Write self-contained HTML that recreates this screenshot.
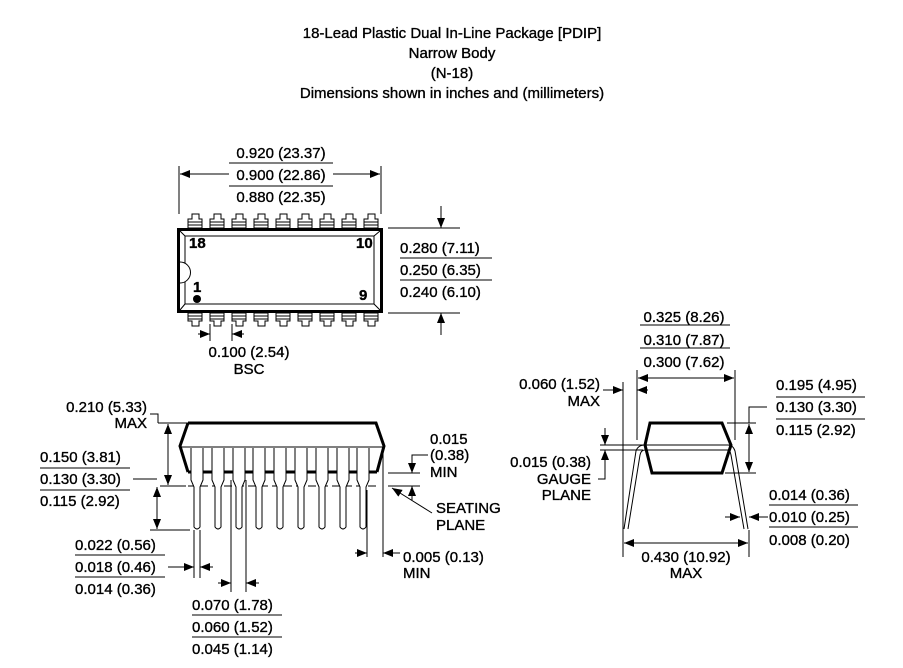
<!DOCTYPE html>
<html><head><meta charset="utf-8"><style>
html,body{margin:0;padding:0;background:#fff}
svg{display:block}
text{font-family:"Liberation Sans",Arial,sans-serif;font-size:15px;fill:#000;stroke:#000;stroke-width:0.35}
</style></head><body>
<svg width="903" height="668" viewBox="0 0 903 668" xmlns="http://www.w3.org/2000/svg">
<defs>
<marker id="a" viewBox="0 0 10 8" refX="10" refY="4" markerWidth="10" markerHeight="8" markerUnits="userSpaceOnUse" orient="auto"><path d="M0,0L10,4L0,8Z" fill="#000"/></marker>
</defs>
<g text-anchor="middle">
<text x="452" y="38">18-Lead Plastic Dual In-Line Package [PDIP]</text>
<text x="452" y="58">Narrow Body</text>
<text x="452" y="78">(N-18)</text>
<text x="452" y="98">Dimensions shown in inches and (millimeters)</text>
</g>
<g stroke="#000" stroke-width="1" fill="none">
<!-- TOP VIEW -->
<line x1="179" y1="166" x2="179" y2="214"/><line x1="381" y1="166" x2="381" y2="214"/>
<line x1="229" y1="174" x2="180" y2="174" marker-end="url(#a)"/>
<line x1="333" y1="174" x2="380" y2="174" marker-end="url(#a)"/>
<line x1="229" y1="163" x2="333" y2="163"/><line x1="229" y1="186" x2="333" y2="186"/>
<rect x="178.5" y="229.5" width="203" height="82" stroke-width="3"/>
<path d="M185,236H374V304H185Z"/>
<path d="M180,231L185,236M380,231L374,236M180,310L185,304M380,310L374,304"/>
<path d="M180,262A10,10 0 0 1 180,283" fill="#fff"/>
<line x1="388" y1="228" x2="460" y2="228"/><line x1="388" y1="313" x2="460" y2="313"/>
<line x1="441" y1="206" x2="441" y2="228" marker-end="url(#a)"/>
<line x1="441" y1="335" x2="441" y2="313" marker-end="url(#a)"/>
<line x1="400" y1="258" x2="492" y2="258"/><line x1="400" y1="280" x2="492" y2="280"/>
<line x1="210" y1="324" x2="210" y2="341"/><line x1="232" y1="324" x2="232" y2="341"/>
<line x1="198" y1="334" x2="210" y2="334" marker-end="url(#a)"/>
<line x1="244" y1="334" x2="232" y2="334" marker-end="url(#a)"/>
<!-- SIDE VIEW -->
<path d="M188,423H376L384,446L377,472M188,423L180,446L188,472" stroke-width="3"/>
<line x1="181" y1="447" x2="383" y2="447"/>
<line x1="188" y1="472" x2="377" y2="472" stroke-width="3"/>
<line x1="188" y1="486" x2="380" y2="486" stroke-dasharray="8,4"/>
<path d="M150,414H158V423"/>
<line x1="158" y1="423" x2="188" y2="423"/><line x1="160" y1="486" x2="186" y2="486"/>
<line x1="168" y1="440" x2="168" y2="424" marker-end="url(#a)"/>
<line x1="168" y1="440" x2="168" y2="485" marker-end="url(#a)"/>
<line x1="40" y1="468" x2="130" y2="468"/><line x1="40" y1="490" x2="130" y2="490"/>
<path d="M133,479H157"/>
<line x1="157" y1="505" x2="157" y2="487" marker-end="url(#a)"/>
<line x1="157" y1="505" x2="157" y2="529" marker-end="url(#a)"/>
<line x1="150" y1="530" x2="190" y2="530"/>
<line x1="388" y1="473" x2="420" y2="473"/><line x1="388" y1="486" x2="420" y2="486"/>
<path d="M428,455H412V473"/>
<line x1="412" y1="460" x2="412" y2="473" marker-end="url(#a)"/>
<line x1="412" y1="500" x2="412" y2="486" marker-end="url(#a)"/>
<path d="M432,513L392,488" marker-end="url(#a)"/>
<line x1="367" y1="490" x2="367" y2="557"/><line x1="383" y1="440" x2="383" y2="557"/>
<line x1="355" y1="553" x2="367" y2="553" marker-end="url(#a)"/>
<line x1="400" y1="553" x2="383" y2="553" marker-end="url(#a)"/>
<line x1="75" y1="555" x2="165" y2="555"/><line x1="75" y1="577" x2="165" y2="577"/>
<line x1="194" y1="530" x2="194" y2="578"/><line x1="200" y1="530" x2="200" y2="578"/>
<line x1="168" y1="567" x2="194" y2="567" marker-end="url(#a)"/>
<line x1="213" y1="567" x2="200" y2="567" marker-end="url(#a)"/>
<line x1="192" y1="615" x2="282" y2="615"/><line x1="192" y1="637" x2="282" y2="637"/>
<line x1="231" y1="480" x2="231" y2="592"/><line x1="246" y1="480" x2="246" y2="592"/>
<line x1="218" y1="583" x2="231" y2="583" marker-end="url(#a)"/>
<line x1="259" y1="583" x2="246" y2="583" marker-end="url(#a)"/>
<!-- END VIEW -->
<path d="M650,423H722L731,445L722,473H652L645,445Z" stroke-width="3"/>
<path d="M600,445H645M600,450H643"/>
<path d="M624,529L636,451Q638,445 645,445M628,529L640,455Q641,450 645,450"/>
<path d="M748,529L735,451Q733,445 728,445M744,529L731,455Q730,450 728,450"/>
<path d="M645,445H728M645,450H728"/>
<line x1="605" y1="428" x2="605" y2="445" marker-end="url(#a)"/>
<line x1="605" y1="466" x2="605" y2="450" marker-end="url(#a)"/>
<path d="M605,466V479H598"/>
<line x1="623" y1="382" x2="623" y2="557"/>
<line x1="637" y1="370" x2="637" y2="440"/><line x1="735" y1="370" x2="735" y2="440"/>
<line x1="686" y1="378" x2="638" y2="378" marker-end="url(#a)"/>
<line x1="686" y1="378" x2="734" y2="378" marker-end="url(#a)"/>
<line x1="603" y1="390" x2="623" y2="390" marker-end="url(#a)"/>
<line x1="648" y1="390" x2="637" y2="390" marker-end="url(#a)"/>
<line x1="640" y1="325" x2="730" y2="325"/><line x1="640" y1="348" x2="730" y2="348"/>
<line x1="727" y1="423" x2="756" y2="423"/><line x1="725" y1="473" x2="756" y2="473"/>
<path d="M767,407H749V423"/>
<line x1="749" y1="448" x2="749" y2="424" marker-end="url(#a)"/>
<line x1="749" y1="448" x2="749" y2="472" marker-end="url(#a)"/>
<line x1="776" y1="397" x2="865" y2="397"/><line x1="776" y1="419" x2="865" y2="419"/>
<line x1="725" y1="517" x2="740" y2="517" marker-end="url(#a)"/>
<line x1="768" y1="517" x2="749" y2="517" marker-end="url(#a)"/>
<line x1="769" y1="505" x2="858" y2="505"/><line x1="769" y1="527" x2="858" y2="527"/>
<line x1="749" y1="530" x2="749" y2="557"/>
<line x1="686" y1="543" x2="624" y2="543" marker-end="url(#a)"/>
<line x1="686" y1="543" x2="748" y2="543" marker-end="url(#a)"/>
</g>
<!-- pins top & bottom -->
<g stroke="#000" fill="#fff" stroke-width="1">
<g id="tp"><path d="M192,214H199V219H202V228H188V219H192Z"/><path d="M188,222H202M188,225H202"/></g>
<use href="#tp" x="22"/><use href="#tp" x="44"/><use href="#tp" x="66"/><use href="#tp" x="88"/><use href="#tp" x="110"/><use href="#tp" x="132"/><use href="#tp" x="154"/><use href="#tp" x="176"/>
<g id="bp"><path d="M188,313H202V321H199V326H192V321H188Z"/><path d="M188,316H202M188,319H202"/></g>
<use href="#bp" x="22"/><use href="#bp" x="44"/><use href="#bp" x="66"/><use href="#bp" x="88"/><use href="#bp" x="110"/><use href="#bp" x="132"/><use href="#bp" x="154"/><use href="#bp" x="176"/>
<g id="sp"><path d="M191,448V480L194,487V527Q197,531 200,527V487L203,480V448"/></g>
<use href="#sp" x="21"/><use href="#sp" x="42"/><use href="#sp" x="62"/><use href="#sp" x="83"/><use href="#sp" x="104"/><use href="#sp" x="125"/><use href="#sp" x="146"/><use href="#sp" x="166"/>
</g>
<circle cx="197" cy="299" r="4" fill="#000"/>
<g style="font-size:11px;font-weight:bold">
<text x="189" y="248">18</text><text x="356" y="248">10</text>
<text x="193" y="292">1</text><text x="359" y="300">9</text>
</g>
<g text-anchor="middle">
<text x="281" y="158">0.920 (23.37)</text><text x="281" y="180">0.900 (22.86)</text><text x="281" y="202">0.880 (22.35)</text>
<text x="249" y="357">0.100 (2.54)</text><text x="249" y="374">BSC</text>
<text x="684" y="322">0.325 (8.26)</text><text x="684" y="345">0.310 (7.87)</text><text x="684" y="367">0.300 (7.62)</text>
<text x="686" y="562">0.430 (10.92)</text><text x="686" y="578">MAX</text>
</g>
<g>
<text x="400" y="253">0.280 (7.11)</text><text x="400" y="275">0.250 (6.35)</text><text x="400" y="297">0.240 (6.10)</text>
<text x="40" y="462">0.150 (3.81)</text><text x="40" y="484">0.130 (3.30)</text><text x="40" y="506">0.115 (2.92)</text>
<text x="75" y="550">0.022 (0.56)</text><text x="75" y="572">0.018 (0.46)</text><text x="75" y="594">0.014 (0.36)</text>
<text x="192" y="610">0.070 (1.78)</text><text x="192" y="632">0.060 (1.52)</text><text x="192" y="654">0.045 (1.14)</text>
<text x="430" y="444">0.015</text><text x="430" y="460">(0.38)</text><text x="430" y="477">MIN</text>
<text x="436" y="513">SEATING</text><text x="436" y="530">PLANE</text>
<text x="403" y="562">0.005 (0.13)</text><text x="403" y="578">MIN</text>
<text x="776" y="390">0.195 (4.95)</text><text x="776" y="412">0.130 (3.30)</text><text x="776" y="435">0.115 (2.92)</text>
<text x="769" y="500">0.014 (0.36)</text><text x="769" y="522">0.010 (0.25)</text><text x="769" y="545">0.008 (0.20)</text>
</g>
<g text-anchor="end">
<text x="147" y="412">0.210 (5.33)</text><text x="147" y="428">MAX</text>
<text x="600" y="389">0.060 (1.52)</text><text x="600" y="406">MAX</text>
<text x="591" y="467">0.015 (0.38)</text><text x="591" y="484">GAUGE</text><text x="591" y="500">PLANE</text>
</g>
</svg>
</body></html>
